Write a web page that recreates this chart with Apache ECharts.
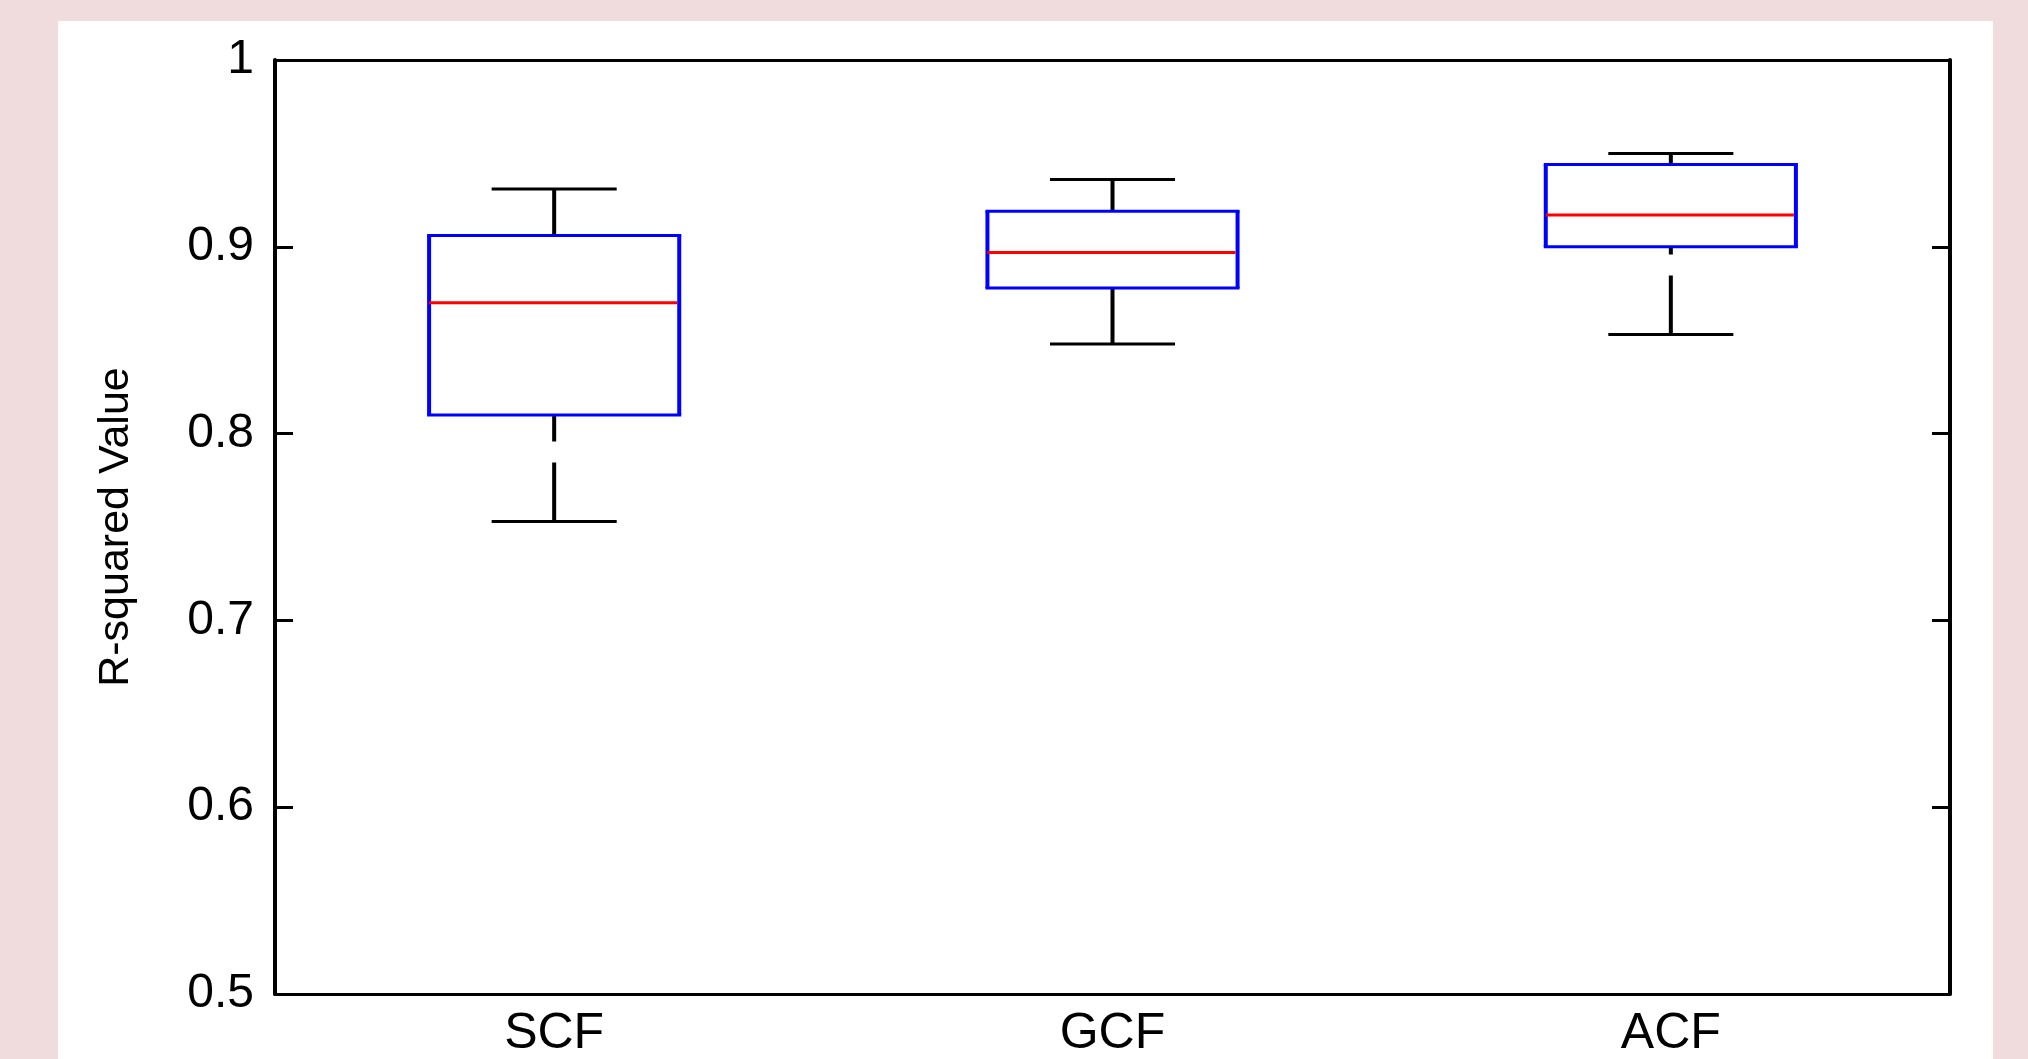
<!DOCTYPE html>
<html>
<head>
<meta charset="utf-8">
<title>R-squared Value by method</title>
<script src="https://cdn.jsdelivr.net/npm/echarts@6/dist/echarts.min.js"></script>
<style>
  html, body { margin: 0; padding: 0; background: #f0dcdc; }
  #chart { width: 2028px; height: 1059px; }
</style>
</head>
<body>
<div id="chart"></div>
<script>
// Box-plot statistics per method
const categories = ['SCF', 'GCF', 'ACF'];
const lowerWhisker = [0.753, 0.848, 0.853];
const lowerQuartile = [0.810, 0.878, 0.900];
const medianValue = [0.870, 0.897, 0.917];
const upperQuartile = [0.906, 0.919, 0.944];
const upperWhisker = [0.931, 0.936, 0.950];

// y axis range and tick step
const yMin = 0.5;
const yMax = 1;
const yStep = 0.1;

const BOX_RATIO = 0.448;   // box width as share of a category band
const FONT = '"Liberation Sans", Arial, Helvetica, sans-serif';

const boxData = categories.map((c, i) => [
  i, lowerWhisker[i], lowerQuartile[i], medianValue[i], upperQuartile[i], upperWhisker[i]
]);

function seg(x1, y1, x2, y2, stroke, lineWidth, lineDash) {
  return {
    type: 'line',
    shape: { x1, y1, x2, y2 },
    style: { stroke, lineWidth, lineDash: lineDash || null, lineCap: 'butt' }
  };
}

function renderBox(params, api) {
  const idx = api.value(0);
  const lo = api.coord([idx, api.value(1)]);
  const q1 = api.coord([idx, api.value(2)]);
  const md = api.coord([idx, api.value(3)]);
  const q3 = api.coord([idx, api.value(4)]);
  const hi = api.coord([idx, api.value(5)]);
  const band = api.size([1, 0])[0];
  const half = band * BOX_RATIO / 2;
  const cap = half / 2;
  const x = lo[0];
  const dash = [59, 21];
  const blue = '#0000ff';
  return {
    type: 'group',
    children: [
      // whiskers, dashed from the cap toward the box
      seg(x, hi[1], x, q3[1], '#000', 4, dash),
      seg(x, lo[1], x, q1[1], '#000', 4, dash),
      // whisker caps
      seg(x - cap, hi[1], x + cap, hi[1], '#000', 3),
      seg(x - cap, lo[1], x + cap, lo[1], '#000', 3),
      // box
      seg(x - half - 2, q3[1], x + half + 2, q3[1], blue, 3),
      seg(x - half - 2, q1[1], x + half + 2, q1[1], blue, 3),
      seg(x - half, q3[1], x - half, q1[1], blue, 4),
      seg(x + half, q3[1], x + half, q1[1], blue, 4),
      // median
      seg(x - half, md[1], x + half - 2, md[1], '#ff0000', 3)
    ]
  };
}

const chart = echarts.init(document.getElementById('chart'), null, { renderer: 'canvas' });

chart.setOption({
  backgroundColor: '#f0dcdc',
  animation: false,
  graphic: [{
    type: 'rect',
    left: 58,
    top: 21,
    z: -10,
    silent: true,
    shape: { width: 1935, height: 1040 },
    style: { fill: '#ffffff' }
  }],
  grid: { left: 275, top: 60, right: 78, bottom: 65, containLabel: false },
  xAxis: [{
    type: 'category',
    data: categories,
    position: 'bottom',
    boundaryGap: true,
    axisLine: { lineStyle: { color: '#000', width: 3 } },
    axisTick: { show: false },
    axisLabel: { color: '#000', fontFamily: FONT, fontSize: 50, margin: 15 },
    splitLine: { show: false }
  }, {
    type: 'category',
    data: categories,
    position: 'top',
    axisLine: { lineStyle: { color: '#000', width: 3 } },
    axisTick: { show: false },
    axisLabel: { show: false },
    splitLine: { show: false }
  }],
  yAxis: [{
    type: 'value',
    min: yMin,
    max: yMax,
    interval: yStep,
    position: 'left',
    name: 'R-squared Value',
    nameLocation: 'middle',
    nameGap: 137,
    nameTextStyle: { color: '#000', fontFamily: FONT, fontSize: 43 },
    axisLine: { show: true, lineStyle: { color: '#000', width: 4 } },
    axisTick: { show: true, inside: true, length: 18, lineStyle: { color: '#000', width: 3 } },
    axisLabel: { color: '#000', fontFamily: FONT, fontSize: 48, margin: 21 },
    splitLine: { show: false }
  }, {
    type: 'value',
    min: yMin,
    max: yMax,
    interval: yStep,
    position: 'right',
    axisLine: { show: true, lineStyle: { color: '#000', width: 4 } },
    axisTick: { show: true, inside: true, length: 18, lineStyle: { color: '#000', width: 3 } },
    axisLabel: { show: false },
    splitLine: { show: false }
  }],
  series: [{
    type: 'custom',
    name: 'R-squared',
    xAxisIndex: 0,
    yAxisIndex: 0,
    renderItem: renderBox,
    encode: { x: 0, y: [1, 2, 3, 4, 5] },
    data: boxData,
    z: 5
  }]
});
</script>
</body>
</html>
